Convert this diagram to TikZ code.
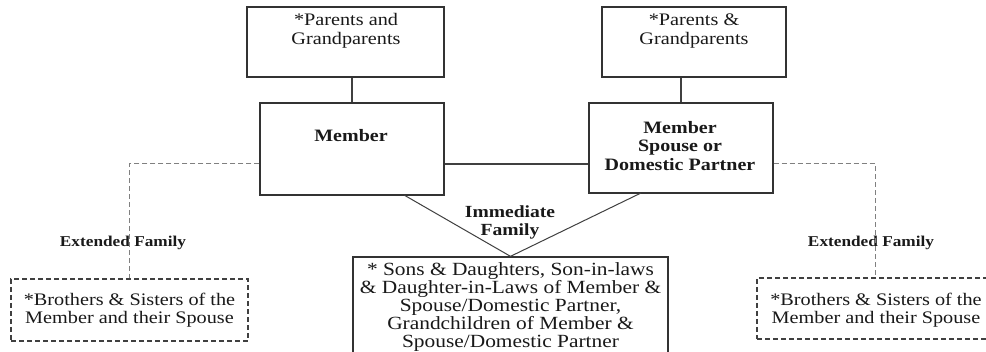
\documentclass[tikz,border=0pt]{standalone}
\usepackage{fontspec}
\setmainfont{Liberation Serif}[FakeStretch=1.15]
\begin{document}
\begin{tikzpicture}[x=1pt,y=-1pt,
  solidbox/.style={draw=black!80,line width=1.3pt,rectangle,inner sep=0pt},
  dashbox/.style={draw=black!75,line width=1.1pt,rectangle,inner sep=0pt,dash pattern=on 5pt off 3pt},
  link/.style={draw=black!75,line width=1.2pt},
  dashlink/.style={draw=black!50,line width=1pt,dash pattern=on 5pt off 3pt},
  txt/.style={inner sep=0pt,align=center,text=black!90,font=\fontsize{17.6}{18.5}\selectfont},
  btxt/.style={inner sep=0pt,align=center,text=black!90,font=\fontsize{17.4}{18.2}\selectfont\bfseries},
  lbl/.style={inner sep=0pt,align=center,text=black!90,font=\fontsize{15}{16}\selectfont\bfseries}]
\useasboundingbox (0,0) rectangle (986,352);
\clip (0,0) rectangle (986,352);
\fill[white] (0,0) rectangle (986,352);
% boxes
\node[solidbox,minimum width=197pt,minimum height=70pt] (pL) at (345.5,42) {};
\node[solidbox,minimum width=184pt,minimum height=70pt] (pR) at (694,42) {};
\node[solidbox,minimum width=184pt,minimum height=92pt] (mem) at (352,149) {};
\node[solidbox,minimum width=184pt,minimum height=90pt] (sp) at (681,148) {};
\node[dashbox,minimum width=237pt,minimum height=62pt] (bL) at (129.5,310) {};
\node[dashbox,minimum width=237pt,minimum height=61pt] (bR) at (875.5,308.5) {};
\node[solidbox,minimum width=315pt,minimum height=99pt] (kids) at (510.5,306.5) {};
% texts
\node[txt] (pLt) at (346,31) {*Parents and\\Grandparents};
\node[txt] (pRt) at (694,31) {*Parents \&\\Grandparents};
\node[btxt] (memt) at (351,136) {Member};
\node[btxt] (spt) at (680,146) {Member\\Spouse or\\Domestic Partner};
\node[txt] (bLt) at (129.5,310) {*Brothers \& Sisters of the\\Member and their Spouse};
\node[txt] (bRt) at (876,310) {*Brothers \& Sisters of the\\Member and their Spouse};
\node[txt,font=\fontsize{18.6}{18}\selectfont] (kidst) at (510.5,307.5) {* Sons \& Daughters, Son-in-laws\\\& Daughter-in-Laws of Member \&\\Spouse/Domestic Partner,\\Grandchildren of Member \&\\Spouse/Domestic Partner};
\node[lbl] (extL) at (123,243) {Extended Family};
\node[lbl] (extR) at (871,243) {Extended Family};
\node[btxt,font=\fontsize{17}{18}\selectfont\bfseries] (imm) at (510,222) {Immediate\\Family};
% connectors
\coordinate (hy) at (0,164);
\draw[link] (mem.north) -- (mem.north |- pL.south);
\draw[link] (sp.north) -- (sp.north |- pR.south);
\draw[link] (mem.east |- hy) -- (sp.west |- hy);
\coordinate (mb) at (404,195);
\coordinate (sb) at (641,193);
\draw[link,line width=1pt] (mb) -- (kids.north) -- (sb);
\draw[dashlink] (mem.west |- hy) -| (bL.north);
\draw[dashlink] (sp.east |- hy) -| (bR.north);
\end{tikzpicture}
\end{document}
